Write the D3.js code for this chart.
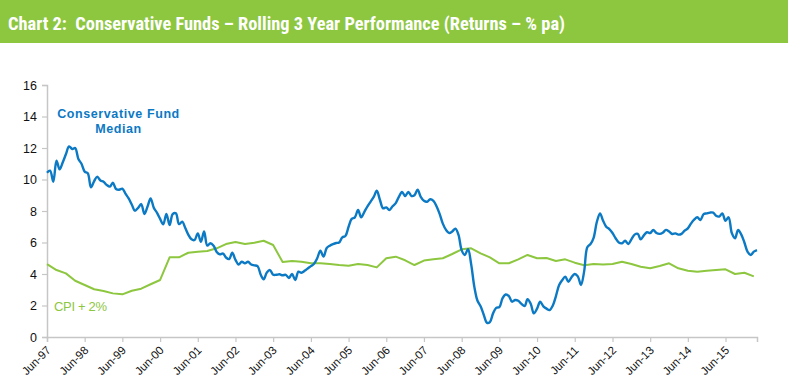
<!DOCTYPE html>
<html><head><meta charset="utf-8">
<script src="https://cdn.jsdelivr.net/npm/d3@7"></script>
<style>
html,body{margin:0;padding:0;background:#fff;}
svg{display:block;}
</style></head>
<body>
<svg id="chart" width="788" height="387"></svg>
<script>
// ---- data ----
const titleText = "Chart 2:  Conservative Funds \u2013 Rolling 3 Year Performance (Returns \u2013 % pa)";
const fundStart = "1997-06"; // monthly series start
const fundMedian = [
 10.43,10.56,9.86,11.2,10.65,11.1,11.6,12.1,11.94,12.0,11.3,11.0,
 10.5,10.4,9.5,9.9,10.18,9.93,9.86,9.65,9.55,9.8,9.4,9.35,
 9.42,9.1,8.8,8.4,8.02,8.2,8.44,7.81,8.3,8.8,8.2,7.9,
 7.5,7.15,7.81,7.11,7.8,7.85,7.17,7.32,6.9,6.5,6.2,6.16,
 6.58,6.05,6.7,5.8,5.95,5.8,5.4,5.25,5.3,5.05,4.95,5.35,
 4.9,4.6,4.78,4.68,4.78,4.6,4.55,4.5,3.95,3.66,4.1,4.25,
 3.95,3.95,3.98,3.92,3.95,3.75,4.0,3.62,4.15,4.08,4.2,4.35,
 4.5,4.65,5.0,5.48,5.1,5.65,5.8,5.9,5.97,6.0,6.33,6.41,
 7.0,7.5,7.6,8.06,7.6,7.95,8.3,8.6,8.91,9.29,8.7,8.17,
 8.23,8.06,8.3,8.5,8.9,9.21,8.95,9.21,8.95,9.0,9.35,8.9,
 8.65,8.59,8.75,8.65,8.3,7.8,7.2,6.8,6.6,6.7,6.88,6.48,
 5.5,5.21,5.57,4.6,3.2,2.3,1.95,1.4,0.9,0.95,1.5,1.85,
 1.9,2.45,2.7,2.6,2.24,2.35,2.3,2.1,1.97,2.4,2.1,1.5,
 1.8,2.24,1.95,1.8,1.71,2.0,2.6,3.3,3.62,3.83,3.51,3.8,
 4.0,3.85,3.3,4.2,5.7,5.9,6.3,7.3,7.85,7.4,7.0,6.85,
 6.6,6.27,6.0,5.95,6.11,5.9,6.2,6.5,6.55,6.2,6.45,6.65,
 6.6,6.79,6.6,6.55,6.62,6.8,6.7,6.54,6.58,6.5,6.55,6.75,
 6.9,7.2,7.45,7.6,7.43,7.8,7.85,7.9,7.9,7.7,7.65,7.85,
 7.38,7.6,6.6,6.27,6.8,6.5,6.0,5.4,5.21,5.42,5.52
];
const cpiStart = "1997-06"; // quarterly series start
const cpiPlus2 = [
 4.63,4.25,4.04,
 3.57,3.3,3.03,2.92,
 2.77,2.71,2.94,3.07,
 3.35,3.62,5.06,5.06,
 5.35,5.42,5.46,5.63,
 5.9,6.03,5.9,5.99,
 6.11,5.84,4.76,4.83,
 4.78,4.68,4.68,4.63,
 4.57,4.53,4.63,4.57,
 4.42,5.0,5.1,4.87,
 4.57,4.85,4.93,5.0,
 5.27,5.57,5.63,5.31,
 5.06,4.68,4.68,4.93,
 5.21,5.0,5.02,4.83,
 4.93,4.72,4.56,4.63,
 4.61,4.63,4.78,4.63,
 4.46,4.36,4.51,4.68,
 4.36,4.21,4.15,4.21,
 4.25,4.3,4.0,4.08,
 3.85
];
const yTicks = [0,2,4,6,8,10,12,14,16];
const xTickYears = [1997,1998,1999,2000,2001,2002,2003,2004,2005,2006,2007,2008,2009,2010,2011,2012,2013,2014,2015];
const seriesLabels = {fund:["Conservative Fund","Median"], cpi:"CPI + 2%"};

// ---- styles ----
const BLUE = "#0b79c4", GREEN = "#8dc63f", AXIS = "#c6c6c6";
const svg = d3.select("#chart");
const parse = d3.timeParse("%Y-%m");
const fmt = d3.timeFormat("%b-%y");

const fundData = fundMedian.map((v,i)=>({date:d3.timeMonth.offset(parse(fundStart), i), v}));
const cpiData = cpiPlus2.map((v,i)=>({date:d3.timeMonth.offset(parse(cpiStart), i*3), v}));

const mLeft = 47, mRight = 757, mTop = 85, mBottom = 337;
const x = d3.scaleTime().domain([parse(fundStart), fundData[fundData.length-1].date]).range([mLeft,mRight]);
const y = d3.scaleLinear().domain([0,16]).range([mBottom, mTop]);

// title bar
svg.append("rect").attr("x",0).attr("y",0).attr("width",788).attr("height",43).attr("fill",GREEN);
svg.append("text").attr("x",8).attr("y",30)
  .attr("fill","#fff")
  .attr("font-family","'Liberation Sans Narrow','Arial Narrow','Roboto Condensed','Liberation Sans',sans-serif")
  .attr("font-weight","bold").attr("font-size",18)
  .attr("textLength",557).attr("lengthAdjust","spacingAndGlyphs")
  .style("white-space","pre")
  .text(titleText);

// y axis
const yAxis = d3.axisLeft(y).tickValues(yTicks).tickSize(5).tickPadding(5).tickFormat(d3.format("d"));
const gy = svg.append("g").attr("transform",`translate(${mLeft},0)`).call(yAxis);
gy.select(".domain").attr("stroke",AXIS).attr("stroke-width",1.5);
gy.selectAll(".tick line").attr("stroke",AXIS).attr("stroke-width",1.2);
gy.selectAll(".tick text").attr("font-family","'Liberation Sans',Arial,sans-serif").attr("font-size",12.5).attr("fill","#111");

// x axis
const xAxis = d3.axisBottom(x).tickValues(xTickYears.map(yr=>new Date(yr,5,1))).tickSize(5).tickFormat(fmt);
const gx = svg.append("g").attr("transform",`translate(0,${mBottom})`).call(xAxis);
gx.select(".domain").attr("stroke",AXIS).attr("stroke-width",1.5);
gx.selectAll(".tick line").attr("stroke",AXIS).attr("stroke-width",1.2);
gx.selectAll(".tick text")
  .attr("font-family","'Liberation Sans',Arial,sans-serif").attr("font-size",11.5).attr("fill","#111")
  .attr("text-anchor","end").attr("dy",0).attr("y",0)
  .attr("transform","translate(4,14) rotate(-45)");

// lines
const lineSmooth = d3.line().x(d=>x(d.date)).y(d=>y(d.v)).curve(d3.curveCatmullRom.alpha(0.5));
const lineStraight = d3.line().x(d=>x(d.date)).y(d=>y(d.v));
svg.append("path").datum(cpiData).attr("d",lineStraight).attr("fill","none")
  .attr("stroke",GREEN).attr("stroke-width",2).attr("stroke-linejoin","round");
svg.append("path").datum(fundData).attr("d",lineSmooth).attr("fill","none")
  .attr("stroke",BLUE).attr("stroke-width",2.4).attr("stroke-linejoin","round");

// series labels
const lab = svg.append("text").attr("font-family","'Liberation Sans',Arial,sans-serif")
  .attr("font-weight","bold").attr("font-size",12.5).attr("fill",BLUE).attr("text-anchor","middle");
lab.append("tspan").attr("x",118.5).attr("y",118).attr("letter-spacing",0.6).text(seriesLabels.fund[0]);
lab.append("tspan").attr("x",118.5).attr("y",133).attr("letter-spacing",0.6).text(seriesLabels.fund[1]);
svg.append("text").attr("x",54).attr("y",311)
  .attr("font-family","'Liberation Sans',Arial,sans-serif").attr("font-size",13).attr("fill",GREEN)
  .attr("textLength",53).attr("lengthAdjust","spacing")
  .text(seriesLabels.cpi);
</script>
</body></html>
